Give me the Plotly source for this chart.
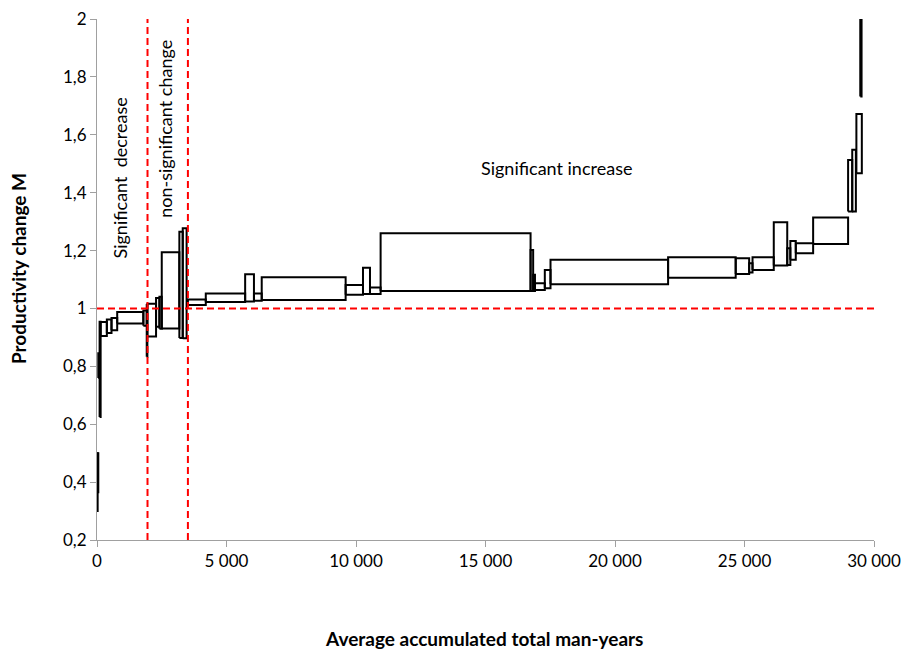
import plotly.graph_objects as go

# Salter-type boxes: start/end of accumulated man-years, lower/upper bound of M
x_start = [0, 25, 50, 100, 140, 380, 560, 780, 1790, 1920, 1945, 2280, 2410, 2500, 3180, 3310,
           3510, 4200, 5720, 6060, 6360, 9600, 10270, 10540, 10950, 16740, 16840, 16910, 17290,
           17510, 22050, 24660, 25180, 25310, 26130, 26650, 26770, 26980, 27650, 29000, 29160,
           29320, 29470]
x_end = [25, 50, 100, 140, 380, 560, 780, 1790, 1920, 1945, 2280, 2410, 2500, 3180, 3310, 3460,
         4200, 5720, 6060, 6360, 9600, 10270, 10540, 10950, 16740, 16840, 16910, 17290, 17510,
         22050, 24660, 25180, 25310, 26130, 26650, 26770, 26980, 27650, 29000, 29160, 29300,
         29530, 29520]
m_low = [0.30, 0.365, 0.76, 0.625, 0.905, 0.915, 0.925, 0.948, 0.94, 0.833, 0.903, 0.937, 0.93,
         0.931, 0.898, 0.897, 1.012, 1.022, 1.024, 1.027, 1.029, 1.047, 1.05, 1.05, 1.06, 1.06,
         1.06, 1.064, 1.07, 1.084, 1.106, 1.119, 1.124, 1.133, 1.148, 1.15, 1.168, 1.191, 1.223,
         1.335, 1.335, 1.467, 1.732]
m_high = [0.50, 0.50, 0.845, 0.954, 0.953, 0.962, 0.967, 0.988, 0.993, 1.012, 1.016, 1.036, 1.04,
          1.194, 1.265, 1.277, 1.031, 1.052, 1.118, 1.052, 1.108, 1.081, 1.141, 1.072, 1.26, 1.202,
          1.116, 1.087, 1.133, 1.168, 1.177, 1.173, 1.156, 1.177, 1.298, 1.208, 1.233, 1.225,
          1.314, 1.513, 1.548, 1.672, 2.0]

split_1 = 1950   # significant decrease | non-significant
split_2 = 3510   # non-significant | significant increase
ref_level = 1.0

y_ticks = [0.2, 0.4, 0.6, 0.8, 1.0, 1.2, 1.4, 1.6, 1.8, 2.0]
y_labels = ["0,2", "0,4", "0,6", "0,8", "1", "1,2", "1,4", "1,6", "1,8", "2"]
x_ticks = [0, 5000, 10000, 15000, 20000, 25000, 30000]
x_labels = ["0", "5 000", "10 000", "15 000", "20 000", "25 000", "30 000"]

FONT = "Lato"

xs, ys = [], []
for a, b, lo, hi in zip(x_start, x_end, m_low, m_high):
    xs += [a, b, b, a, a, None]
    ys += [lo, lo, hi, hi, lo, None]

fig = go.Figure()
fig.add_trace(go.Scatter(x=xs, y=ys, mode="lines",
                         line=dict(color="black", width=2), hoverinfo="skip",
                         showlegend=False))

red = dict(color="#ff0000", width=2, dash="7px,4px")
fig.add_shape(type="line", xref="x", yref="paper", x0=split_1, x1=split_1, y0=0, y1=1, line=red)
fig.add_shape(type="line", xref="x", yref="paper", x0=split_2, x1=split_2, y0=0, y1=1, line=red)
fig.add_shape(type="line", xref="x", yref="y", x0=0, x1=30000, y0=ref_level, y1=ref_level, line=red)

fig.add_annotation(x=900, y=1.45, xref="x", yref="y", text="Significant  decrease",
                   textangle=-90, showarrow=False, font=dict(family=FONT, size=18, color="black"))
fig.add_annotation(x=2620, y=1.62, xref="x", yref="y", text="non-significant change",
                   textangle=-90, showarrow=False, font=dict(family=FONT, size=18, color="black"))
fig.add_annotation(x=17760, y=1.485, xref="x", yref="y", text="Significant increase",
                   showarrow=False, font=dict(family=FONT, size=18, color="black"))

# axis titles
fig.add_annotation(xref="paper", yref="paper", x=0, y=0.52, xshift=-79,
                   xanchor="center", yanchor="middle",
                   text="<b>Productivity change M</b>", textangle=-90, showarrow=False,
                   font=dict(family=FONT, size=19, color="black"))
fig.add_annotation(xref="paper", yref="paper", x=0.498, y=0, yshift=-98,
                   xanchor="center", yanchor="middle",
                   text="<b>Average accumulated total man-years</b>", showarrow=False,
                   font=dict(family=FONT, size=19, color="black"))

fig.update_layout(
    width=910, height=655,
    margin=dict(l=97, r=36, t=19, b=115, autoexpand=False),
    paper_bgcolor="white", plot_bgcolor="white",
    font=dict(family=FONT, size=17, color="black"),
    xaxis=dict(range=[0, 30000], tickvals=x_ticks, ticktext=x_labels,
               showgrid=False, zeroline=False, showline=True, linecolor="#a0a0a0",
               linewidth=1, ticks="outside", tickcolor="#a0a0a0", ticklen=6),
    yaxis=dict(range=[0.2, 2.0], tickvals=y_ticks, ticktext=y_labels,
               showgrid=False, zeroline=False, showline=True, linecolor="#a0a0a0",
               linewidth=1, ticks="outside", tickcolor="#a0a0a0", ticklen=6),
)

fig.write_html("out.html", config={"displayModeBar": False},
               post_script="document.body.style.margin='0';document.body.style.padding='0';")
